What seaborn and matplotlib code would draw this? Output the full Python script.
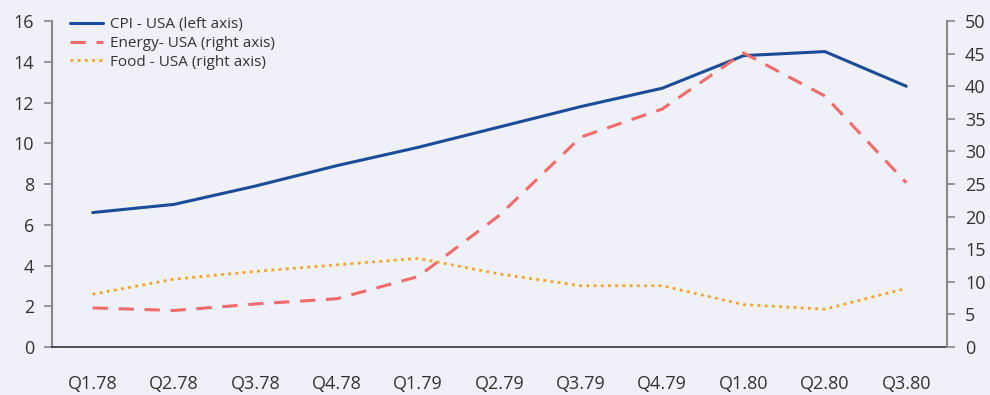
import matplotlib
matplotlib.use("Agg")
import matplotlib.pyplot as plt
import seaborn as sns
import pandas as pd
import numpy as np

quarters = ["Q1.78", "Q2.78", "Q3.78", "Q4.78", "Q1.79", "Q2.79",
            "Q3.79", "Q4.79", "Q1.80", "Q2.80", "Q3.80"]
cpi_usa = [6.6, 7.0, 7.9, 8.9, 9.8, 10.8, 11.8, 12.7, 14.3, 14.5, 12.8]
energy_usa = [6.0, 5.6, 6.6, 7.4, 10.8, 20.2, 32.2, 36.5, 45.1, 38.5, 25.2]
food_usa = [8.1, 10.4, 11.6, 12.6, 13.6, 11.2, 9.4, 9.4, 6.5, 5.8, 9.0]

bg = "#EFF0F8"
text_col = "#333333"
spine_grey = "#888888"

sns.set_theme(style="white")
plt.rcParams["font.family"] = ["Open Sans", "DejaVu Sans"]

df = pd.DataFrame({"quarter": quarters, "cpi": cpi_usa,
                   "energy": energy_usa, "food": food_usa})
df["pos"] = np.arange(len(quarters))

fig = plt.figure(figsize=(9.9, 3.95), dpi=100, facecolor=bg)
ax = fig.add_axes([0.0525, 0.1215, 0.904, 0.8253], facecolor=bg)
ax2 = ax.twinx()

sns.lineplot(data=df, x="pos", y="cpi", ax=ax, color="#1B4C98", lw=2.2,
             label="CPI - USA (left axis)", legend=False)
sns.lineplot(data=df, x="pos", y="energy", ax=ax2, color="#F26B6B", lw=2.2,
             dashes=False, label="Energy- USA (right axis)", legend=False)
ax2.lines[0].set_linestyle((0, (5, 3.5)))
sns.lineplot(data=df, x="pos", y="food", ax=ax2, color="#F9A21B", lw=2.0,
             label="Food - USA (right axis)", legend=False)
ax2.lines[1].set_linestyle((0, (1, 1.6)))

ax.set_xlim(-0.5, len(quarters) - 0.5)
ax.set_ylim(0, 16)
ax2.set_ylim(0, 50)
ax.set_yticks(range(0, 17, 2))
ax2.set_yticks(range(0, 51, 5))

ax.set_xticks(np.arange(len(quarters)))
ax.set_xticklabels(quarters)
ax.set_xticks(np.arange(-0.5, len(quarters), 1.0), minor=True)
ax.tick_params(axis="x", which="major", length=0, pad=20,
               labelsize=13, labelcolor=text_col)
ax.tick_params(axis="x", which="minor", length=6, width=1.2,
               color=text_col, direction="out")
ax.tick_params(axis="y", length=6, width=1.2, color=spine_grey,
               direction="out", labelsize=13, labelcolor=text_col, pad=7)
ax2.tick_params(axis="y", length=6, width=1.2, color=spine_grey,
                direction="out", labelsize=13, labelcolor=text_col, pad=7)

for a in (ax, ax2):
    a.set_xlabel("")
    a.set_ylabel("")
    a.spines["top"].set_visible(False)
    a.grid(False)
ax.spines["right"].set_visible(False)
ax2.spines["left"].set_visible(False)
ax2.spines["bottom"].set_visible(False)
ax.spines["left"].set_color(spine_grey)
ax.spines["left"].set_linewidth(1.5)
ax2.spines["right"].set_color(spine_grey)
ax2.spines["right"].set_linewidth(1.5)
ax.spines["bottom"].set_color(text_col)
ax.spines["bottom"].set_linewidth(1.2)

handles = ax.get_lines()[:1] + ax2.get_lines()[:2]
labels = [h.get_label() for h in handles]
leg = ax.legend(handles, labels, loc="upper left",
                bbox_to_anchor=(0.02, 1.012), frameon=False,
                fontsize=11, handlelength=2.2, handletextpad=0.4,
                labelspacing=0.25, borderaxespad=0, borderpad=0)
for t in leg.get_texts():
    t.set_color(text_col)

fig.savefig("out.png", dpi=100, facecolor=bg)
